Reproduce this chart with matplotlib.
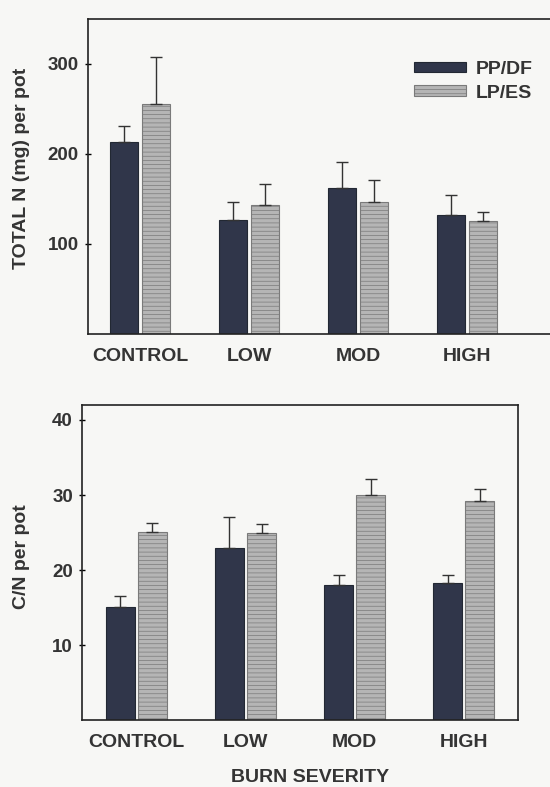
import matplotlib.pyplot as plt
import numpy as np

# burn severity classes and soil sources
categories = ["CONTROL", "LOW", "MOD", "HIGH"]
series = ["PP/DF", "LP/ES"]

# total N (mg) per pot, mean and upper error
total_n_ppdf = [213, 127, 162, 132]
total_n_ppdf_err = [18, 20, 29, 22]
total_n_lpes = [255, 143, 147, 126]
total_n_lpes_err = [53, 24, 24, 10]

# C/N per pot, mean and upper error
cn_ppdf = [15.1, 23.0, 18.0, 18.3]
cn_ppdf_err = [1.4, 4.1, 1.3, 1.0]
cn_lpes = [25.1, 25.0, 30.0, 29.2]
cn_lpes_err = [1.2, 1.2, 2.1, 1.6]

plt.rcParams["font.family"] = ["Liberation Sans", "DejaVu Sans"]
plt.rcParams["font.weight"] = "bold"
plt.rcParams["hatch.color"] = "#c9c9c9"
plt.rcParams["hatch.linewidth"] = 0.5
TXT = "#343434"
DARK = "#30364a"
LIGHT = "#b5b5b5"
BG = "#f7f7f5"

fig = plt.figure(figsize=(5.5, 7.87), dpi=100, facecolor=BG)
ax1 = fig.add_axes([0.16, 0.5756, 0.848, 0.4003], facecolor=BG)
ax2 = fig.add_axes([0.149, 0.0851, 0.793, 0.4003], facecolor=BG)

x = np.arange(len(categories))
w = 0.26
off = 0.147


def panel(ax, a, a_err, b, b_err):
    ax.bar(x - off, a, w, color=DARK, edgecolor="#222833", linewidth=0.8,
           yerr=[np.zeros(len(a)), a_err], capsize=4,
           error_kw=dict(ecolor="#333", elinewidth=1, capthick=1), label=series[0])
    ax.bar(x + off, b, w, color=LIGHT, edgecolor="#7a7a7a", linewidth=0.8, hatch="----",
           yerr=[np.zeros(len(b)), b_err], capsize=4,
           error_kw=dict(ecolor="#333", elinewidth=1, capthick=1), label=series[1])
    ax.set_xticks(x)
    ax.set_xticklabels(categories, fontsize=14, color=TXT)
    ax.tick_params(axis="x", length=0, pad=10)
    ax.tick_params(axis="y", direction="inout", length=5, width=1,
                   labelsize=13.5, labelcolor=TXT, pad=4)
    for s in ax.spines.values():
        s.set_color("#222")
        s.set_linewidth(1.2)


panel(ax1, total_n_ppdf, total_n_ppdf_err, total_n_lpes, total_n_lpes_err)
ax1.set_xlim(-0.48, 3.8)
ax1.set_ylim(0, 350)
ax1.set_yticks([100, 200, 300])
ax1.legend(loc="upper left", bbox_to_anchor=(0.72, 0.945), bbox_transform=fig.transFigure,
           frameon=False, fontsize=14, handlelength=2.7, handleheight=0.45,
           handletextpad=0.5, labelspacing=0.35, labelcolor=TXT)

panel(ax2, cn_ppdf, cn_ppdf_err, cn_lpes, cn_lpes_err)
ax2.set_xlim(-0.5, 3.5)
ax2.set_ylim(0, 42)
ax2.set_yticks([10, 20, 30, 40])

fig.text(0.04, 1 - 168 / 787, "TOTAL N (mg) per pot", rotation=90, ha="center", va="center",
         fontsize=14, color=TXT)
fig.text(0.04, 1 - 557 / 787, "C/N per pot", rotation=90, ha="center", va="center",
         fontsize=14, color=TXT)
fig.text(310 / 550, 1 - 778 / 787, "BURN SEVERITY", ha="center", va="center",
         fontsize=14, color=TXT)

fig.savefig("out.png", dpi=100, facecolor=BG)
